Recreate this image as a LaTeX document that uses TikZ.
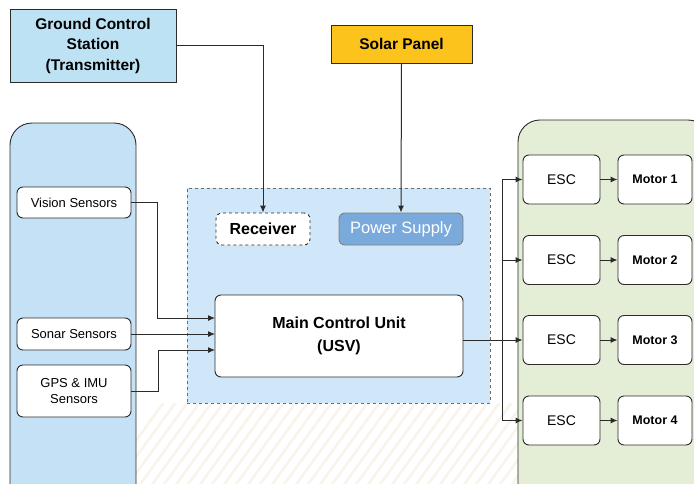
\documentclass[tikz,border=0pt]{standalone}
\usepackage{fontspec}
\setmainfont{Liberation Sans}
\usetikzlibrary{arrows.meta}
\definecolor{gcsblue}{HTML}{BDE2F4}
\definecolor{leftblue}{HTML}{C4E1F5}
\definecolor{midblue}{HTML}{CFE7F8}
\definecolor{psblue}{HTML}{7AAADC}
\definecolor{solar}{HTML}{FCC31C}
\definecolor{rightgreen}{HTML}{E4EDD6}
\definecolor{stripe}{HTML}{F8F4EA}
\definecolor{ink}{HTML}{2B2B2B}
\begin{document}
\begin{tikzpicture}[x=1pt,y=-1pt,
  box/.style={draw=ink, line width=0.9pt, rounded corners=6pt, fill=white, align=center, inner sep=0pt, font=\fontsize{13}{16}\selectfont},
  bbox/.style={box, font=\bfseries\fontsize{15.5}{20.5}\selectfont},
  mbox/.style={box, font=\bfseries\fontsize{12.5}{16}\selectfont},
  conn/.style={draw=ink, line width=1pt},
  arr/.style={conn, -{Latex[length=7pt,width=6pt]}}]
\useasboundingbox (0,0) rectangle (694,483);
\fill[white] (0,0) rectangle (694,483);
% faint background stripes
\begin{scope}
  \clip (136,403) rectangle (518,483);
  \foreach \i in {0,...,50} {
    \draw[stripe, line width=2.5pt] (100+\i*12,490) -- (180+\i*12,380);
  }
\end{scope}
% panels
\fill[leftblue, draw=ink, line width=0.9pt, rounded corners=22pt] (10,500) -- (10,123) -- (136,123) -- (136,500);
\fill[rightgreen, draw=ink, line width=0.9pt, rounded corners=22pt] (518,500) -- (518,120) -- (710,120) -- (710,500);
\node[draw=ink!70, dashed, line width=0.9pt, fill=midblue, minimum width=303pt, minimum height=215pt, inner sep=0pt] (core) at (338.5,295.5) {};

% top boxes
\node[bbox, rounded corners=0pt, fill=gcsblue, minimum width=166pt, minimum height=73pt] (gcs) at (93,45.5) {Ground Control\\Station\\(Transmitter)};
\node[bbox, rounded corners=0pt, fill=solar, minimum width=141pt, minimum height=38pt] (sol) at (401.5,44) {Solar Panel};

% core boxes
\node[bbox, dashed, minimum width=94pt, minimum height=32pt, font=\bfseries\fontsize{16}{20}\selectfont] (rec) at (263,229) {Receiver};
\node[box, draw=ink!60, fill=psblue, text=white, font=\fontsize{16.5}{20}\selectfont, minimum width=124pt, minimum height=32pt] (ps) at (401,229) {Power Supply};
\node[bbox, minimum width=248pt, minimum height=82pt, font=\bfseries\fontsize{16}{23}\selectfont] (mcu) at (339,336) {Main Control Unit\\(USV)};

% sensors
\node[box, minimum width=114pt, minimum height=31pt] (vis) at (74,202.5) {Vision Sensors};
\node[box, minimum width=114pt, minimum height=32pt] (son) at (74,334) {Sonar Sensors};
\node[box, minimum width=114pt, minimum height=52pt] (gps) at (74,391) {GPS \& IMU\\Sensors};

% ESC and motors
\foreach \k/\y in {1/179.5, 2/260, 3/340, 4/420.5} {
  \node[box, font=\fontsize{14}{16}\selectfont, minimum width=77pt, minimum height=49pt] (esc\k) at (561.5,\y) {ESC};
  \node[mbox, minimum width=74pt, minimum height=49pt] (mot\k) at (655,\y) {Motor \k};
  \coordinate (b\k) at (502,\y);
  \draw[arr] (esc\k.east) -- (mot\k.west);
}

% connectors
\draw[arr] (gcs.east) -| (rec.north);
\draw[arr] (sol.south) -- (ps.north);
\coordinate (m1) at (215,318);
\coordinate (m2) at (215,334);
\coordinate (m3) at (215,350);
\coordinate (v1) at (157,202.5);
\coordinate (g1) at (158,391);
\coordinate (mo) at (463,340);
\draw[arr] (vis.east) -- (v1) |- (m1);
\draw[arr] (son.east) -- (m2);
\draw[arr] (gps.east) -- (g1) |- (m3);
\draw[arr] (mo) -- (esc3.west);
\draw[conn] (b1) -- (b4);
\draw[arr] (b1) -- (esc1.west);
\draw[arr] (b2) -- (esc2.west);
\draw[arr] (b4) -- (esc4.west);
\end{tikzpicture}
\end{document}
